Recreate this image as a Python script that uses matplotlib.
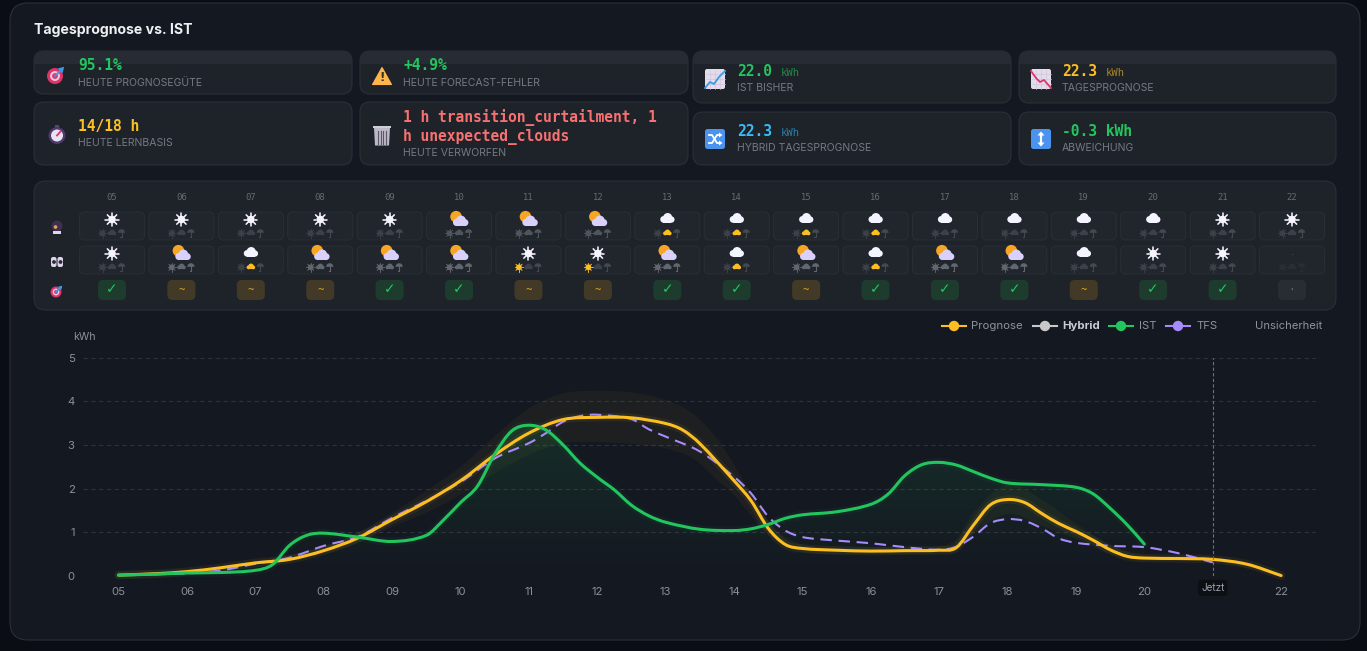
# -*- coding: utf-8 -*-
import numpy as np
import matplotlib
matplotlib.use('Agg')
import matplotlib.pyplot as plt
from matplotlib.patches import Circle, FancyBboxPatch, PathPatch, Polygon, Rectangle, Wedge
from matplotlib.path import Path

# daten
hours = ['05', '06', '07', '08', '09', '10', '11', '12', '13', '14', '15', '16', '17', '18', '19', '20', '21', '22']

prog_x = [5, 5.5, 6, 6.5, 7, 7.5, 8, 8.5, 9, 9.5, 10, 10.5, 11, 11.5, 12, 12.5, 13, 13.25, 13.5, 14, 14.25, 14.5,
          14.75, 15, 15.5, 16, 16.5, 17, 17.25, 17.5, 17.75, 18, 18.25, 18.5, 18.75, 19, 19.25, 19.5, 19.75, 20,
          20.5, 21, 21.5, 22]
prog_y = [0.02, 0.05, 0.1, 0.19, 0.3, 0.38, 0.58, 0.87, 1.29, 1.7, 2.18, 2.77, 3.27, 3.58, 3.63, 3.62, 3.49, 3.34,
          3.03, 2.18, 1.72, 1.09, 0.72, 0.63, 0.59, 0.57, 0.58, 0.59, 0.65, 1.16, 1.63, 1.75, 1.68, 1.43, 1.2, 1.02,
          0.82, 0.6, 0.45, 0.41, 0.4, 0.38, 0.27, 0.01]

ist_x = [5, 5.5, 6, 6.5, 7, 7.25, 7.5, 7.75, 8, 8.5, 9, 9.5, 9.75, 10, 10.25, 10.5, 10.75, 11, 11.25, 11.5, 11.75,
         12, 12.25, 12.5, 12.75, 13, 13.5, 14, 14.25, 14.5, 14.75, 15, 15.5, 16, 16.25, 16.5, 16.75, 17, 17.25,
         17.5, 17.75, 18, 18.5, 19, 19.25, 19.5, 19.75, 20]
ist_y = [0.02, 0.04, 0.07, 0.08, 0.13, 0.26, 0.7, 0.93, 0.98, 0.89, 0.79, 0.93, 1.28, 1.68, 2.06, 2.79, 3.32, 3.45,
         3.34, 3.0, 2.58, 2.26, 1.97, 1.62, 1.38, 1.23, 1.07, 1.04, 1.08, 1.18, 1.32, 1.4, 1.47, 1.64, 1.87, 2.3,
         2.55, 2.6, 2.54, 2.39, 2.24, 2.13, 2.09, 2.03, 1.88, 1.55, 1.17, 0.73]

tfs_x = [5, 6, 6.5, 7, 7.5, 8, 8.5, 9, 9.5, 10, 10.5, 11, 11.25, 11.5, 11.75, 12, 12.5, 12.75, 13, 13.5, 14, 14.25,
         14.5, 14.75, 15, 15.5, 16, 16.5, 17, 17.25, 17.5, 17.75, 18, 18.25, 18.5, 18.75, 19, 19.5, 20, 20.5, 21]
tfs_y = [0.02, 0.06, 0.13, 0.28, 0.42, 0.69, 0.9, 1.33, 1.72, 2.15, 2.69, 3.04, 3.27, 3.53, 3.66, 3.69, 3.59, 3.36,
         3.19, 2.85, 2.27, 1.89, 1.36, 1.04, 0.89, 0.81, 0.75, 0.66, 0.6, 0.67, 0.9, 1.21, 1.3, 1.26, 1.09, 0.86,
         0.76, 0.69, 0.66, 0.52, 0.31]

band_x = [5, 6, 7, 8, 8.5, 9, 9.5, 10, 10.5, 11, 11.5, 12, 12.5, 13, 13.4, 13.75, 14, 14.5, 15, 16, 17, 17.25, 17.5,
          18, 18.5, 19, 19.5, 20, 21, 22]
band_hi = [0.03, 0.12, 0.34, 0.68, 1.0, 1.45, 1.95, 2.5, 3.2, 3.84, 4.18, 4.24, 4.2, 4.03, 3.72, 3.15, 2.55, 1.25,
           0.72, 0.66, 0.68, 0.85, 1.45, 2.1, 1.75, 1.2, 0.72, 0.48, 0.44, 0.02]
band_lo = [0.01, 0.08, 0.26, 0.5, 0.75, 1.12, 1.45, 1.85, 2.35, 2.77, 3.04, 3.06, 3.02, 2.92, 2.69, 2.2, 1.85, 0.95,
           0.55, 0.5, 0.52, 0.58, 0.95, 1.42, 1.15, 0.85, 0.5, 0.35, 0.33, 0.0]

now_hour = 21

wx_top = ['sun'] * 5 + ['mix'] * 3 + ['cloud'] * 8 + ['sun'] * 2
wx_bottom = ['sun', 'mix', 'cloud', 'mix', 'mix', 'mix', 'sun', 'sun', 'mix', 'cloud', 'mix', 'cloud', 'mix', 'mix',
             'cloud', 'sun', 'sun', 'none']
small_top = ['', '', '', '', '', '', '', '', 'c', 'c', 'c', 'c', '', '', '', '', '', '']
small_bottom = ['', '', 'c', '', '', '', 's', 's', '', 'c', '', 'c', '', '', '', '', '', '']
badges = ['ok', 'mid', 'mid', 'mid', 'ok', 'ok', 'mid', 'mid', 'ok', 'ok', 'mid', 'ok', 'ok', 'ok', 'mid', 'ok', 'ok', 'na']

# farben
BG = '#0a0d13'
CARD = '#141821'
TILE = '#1e2229'
STRIP = '#272b33'
EDGE = '#2b2f37'
YEL = '#fbbf24'
GRN = '#22c55e'
PUR = '#a78bfa'
BLU = '#38bdf8'
RED = '#f87171'
GREY = '#747983'
MONO = 'DejaVu Sans Mono'
SANS = 'Inter'

fig = plt.figure(figsize=(13.67, 6.51), dpi=100, facecolor=BG)
ax = fig.add_axes([0, 0, 1, 1])
ax.set_xlim(0, 1367)
ax.set_ylim(651, 0)
ax.axis('off')


def box(x0, y0, x1, y1, r, fc, ec='none', lw=0.8, z=1):
    p = FancyBboxPatch((x0 + r, y0 + r), x1 - x0 - 2 * r, y1 - y0 - 2 * r, boxstyle='round,pad=%g,rounding_size=%g' % (r, r),
                       fc=fc, ec=ec, lw=lw, zorder=z)
    ax.add_patch(p)
    return p


def add(p, z=5):
    p.set_zorder(z)
    ax.add_patch(p)


def txt(x, y, s, size, color, family=SANS, weight='normal', ha='left', z=6):
    return ax.text(x, y, s, fontsize=size, color=color, family=family, weight=weight, ha=ha, va='center', zorder=z)


def sun(x, y, r, color, ray=None, lw=None):
    ray = ray or r * 2.1
    for a in np.arange(8) * np.pi / 4:
        ax.plot([x + r * np.cos(a), x + ray * np.cos(a)], [y + r * np.sin(a), y + ray * np.sin(a)], color=color,
                lw=lw or r * 0.3, solid_capstyle='round', zorder=5)
    add(Circle((x, y), r, fc=color, ec='none'))


def cloud(x, y, s, color, z=5):
    # s = halbe breite
    add(Circle((x - s * 0.5, y + s * 0.12), s * 0.45, fc=color, ec='none'), z)
    add(Circle((x + s * 0.05, y - s * 0.12), s * 0.62, fc=color, ec='none'), z)
    add(Circle((x + s * 0.55, y + s * 0.14), s * 0.43, fc=color, ec='none'), z)
    add(Rectangle((x - s * 0.55, y + s * 0.1), s * 1.1, s * 0.47, fc=color, ec='none'), z)


def umbrella(x, y, color):
    add(Wedge((x, y - 0.5), 3.6, 180, 360, fc=color, ec='none'))
    ax.plot([x, x, x - 1.2], [y - 1, y + 4, y + 4], color=color, lw=0.8, zorder=5)


def wx_icon(kind, x, y):
    if kind == 'sun':
        sun(x, y, 3.8, '#f6f4ff', 6.6)
    elif kind == 'cloud':
        cloud(x, y - 1, 7.4, '#f3f4ff')
    elif kind == 'mix':
        add(Circle((x - 3, y - 2.8), 5.8, fc='#f6a623', ec='none'), 4)
        cloud(x + 1.5, y + 2, 8, '#d9d0fb')
    else:
        txt(x, y + 2, '·', 8, '#50545c', ha='center')


def small_icons(x, y, active, strength):
    off = ['#3c4048', '#50545c', '#62666e', '#292d34'][strength]
    sun(x - 9.5, y, 2.9, YEL if active == 's' else off, 4.3, 0.7)
    cloud(x, y - 0.5, 4.4, YEL if active == 'c' else off)
    umbrella(x + 9.5, y, off if strength else '#44484f')


def target_icon(x, y, r=8):
    add(Circle((x, y), r, fc='#e0336b', ec='none'))
    add(Circle((x, y), r * 0.62, fc='#f4c6d6', ec='none'))
    add(Circle((x, y), r * 0.36, fc='#e0336b', ec='none'))
    ax.plot([x, x + r * 0.85], [y, y - r * 0.85], color='#3b9ae1', lw=1.4, zorder=6)
    add(Polygon([[x + r * 0.35, y - r * 0.95], [x + r * 1.15, y - r * 1.15], [x + r * 0.95, y - r * 0.35]], fc='#3b9ae1', ec='none'), 6)


def warn_icon(x, y):
    add(Polygon([[x, y - 8.5], [x + 9.5, y + 8.5], [x - 9.5, y + 8.5]], closed=True, fc='#fdb64c', ec='#fdb64c', lw=0.8, joinstyle='round'))
    txt(x, y + 1.5, '!', 8.5, '#33302a', family='DejaVu Sans', weight='bold', ha='center')


def watch_icon(x, y):
    add(Rectangle((x - 2, y - 10.5), 4, 3, fc='#5a4478', ec='none'))
    add(Circle((x, y), 8.5, fc='#4d3a6b', ec='none'))
    add(Circle((x, y), 6, fc='#e8e2f4', ec='none'))
    ax.plot([x, x + 3.5], [y, y - 4], color='#e0336b', lw=1.3, zorder=6)


def trash_icon(x, y):
    add(Polygon([[x - 8, y - 8], [x + 8, y - 8], [x + 7, y + 10], [x - 7, y + 10]], fc='#bdb8c8', ec='none'))
    add(Rectangle((x - 9, y - 10), 18, 2.5, fc='#d0ccd8', ec='none'), 6)
    for dx in (-4, -1.3, 1.3, 4):
        ax.plot([x + dx, x + dx], [y - 5, y + 8], color='#5a5866', lw=0.8, zorder=6)


def chart_icon(x, y, color, pts):
    box(x - 10, y - 10, x + 10, y + 10, 2, '#e4dcec', z=5)
    for d in (-5, 0, 5):
        ax.plot([x + d, x + d], [y - 9.5, y + 9.5], color='#cfc6dc', lw=0.5, zorder=5.5)
        ax.plot([x - 9.5, x + 9.5], [y + d, y + d], color='#cfc6dc', lw=0.5, zorder=5.5)
    ax.plot([x + p[0] for p in pts], [y + p[1] for p in pts], color=color, lw=1.3, zorder=6)


def blue_icon(x, y):
    box(x - 10, y - 10, x + 10, y + 10, 2.5, '#4a93ef', z=5)


def smooth_path(xs, ys):
    xs, ys = np.asarray(xs, float), np.asarray(ys, float)
    m = np.zeros(len(xs))
    m[1:-1] = (ys[2:] - ys[:-2]) / (xs[2:] - xs[:-2])
    m[0] = (ys[1] - ys[0]) / (xs[1] - xs[0])
    m[-1] = (ys[-1] - ys[-2]) / (xs[-1] - xs[-2])
    verts = [(xs[0], ys[0])]
    codes = [Path.MOVETO]
    for i in range(len(xs) - 1):
        h = (xs[i + 1] - xs[i]) / 3
        verts += [(xs[i] + h, ys[i] + m[i] * h), (xs[i + 1] - h, ys[i + 1] - m[i + 1] * h), (xs[i + 1], ys[i + 1])]
        codes += [Path.CURVE4] * 3
    return verts, codes


def line(a, xs, ys, **kw):
    v, c = smooth_path(xs, ys)
    p = PathPatch(Path(v, c), fc='none', capstyle=kw.pop('capstyle', 'round'), **kw)
    a.add_patch(p)
    return p


# karte
box(10, 3, 1360, 640, 18, CARD, EDGE, 0.8, z=0)
txt(34, 30, 'Tagesprognose vs. IST', 10.15, '#eef0f3', weight='bold')

# kacheln
for x0, y0, x1, y1, strip in [(34, 51, 352, 94, 1), (360, 51, 688, 94, 1), (34, 102, 352, 165, 0), (360, 102, 688, 165, 0),
                              (693, 51, 1011, 103, 1), (1019, 51, 1336, 103, 1), (693, 112, 1011, 165, 0), (1019, 112, 1336, 165, 0)]:
    tile = box(x0, y0, x1, y1, 10, TILE, EDGE, 0.8, z=1)
    if strip:
        r = Rectangle((x0, y0), x1 - x0, 13, fc=STRIP, ec='none', zorder=1.5)
        ax.add_patch(r)
        r.set_clip_path(tile)

LBL = 7.55
txt(78, 66, '95.1%', 10.5, GRN, MONO, 'bold')
txt(78, 83, 'HEUTE PROGNOSEGÜTE', LBL, GREY)
txt(403, 66, '+4.9%', 10.5, GRN, MONO, 'bold')
txt(403, 83, 'HEUTE FORECAST-FEHLER', LBL, GREY)
txt(78, 127, '14/18 h', 10.5, YEL, MONO, 'bold')
txt(78, 143, 'HEUTE LERNBASIS', LBL, GREY)
txt(403, 117, '1 h transition_curtailment, 1', 10.5, RED, MONO, 'bold')
txt(403, 137, 'h unexpected_clouds', 10.5, RED, MONO, 'bold')
txt(403, 153, 'HEUTE VERWORFEN', LBL, GREY)

txt(737, 72, '22.0', 10.5, GRN, MONO, 'bold')
txt(781, 72.5, 'kWh', 7.6, '#1f8a48', MONO)
txt(737, 88, 'IST BISHER', LBL, GREY)
txt(1062, 72, '22.3', 10.5, YEL, MONO, 'bold')
txt(1106, 72.5, 'kWh', 7.6, '#a8842a', MONO)
txt(1062, 88, 'TAGESPROGNOSE', LBL, GREY)
txt(737, 132, '22.3', 10.5, BLU, MONO, 'bold')
txt(781, 132.5, 'kWh', 7.6, '#2a7fa5', MONO)
txt(737, 148, 'HYBRID TAGESPROGNOSE', LBL, GREY)
txt(1062, 132, '-0.3 kWh', 10.5, GRN, MONO, 'bold')
txt(1062, 148, 'ABWEICHUNG', LBL, GREY)

target_icon(55, 76)
warn_icon(382, 76)
watch_icon(57, 135.5)
trash_icon(382, 135.5)
chart_icon(715, 79, '#3b9ae1', [(-10, 9), (-5, 3), (-1, 5), (4, -2), (10, -8)])
chart_icon(1041, 79, '#e0336b', [(-10, -8), (-5, -1), (-1, 3), (3, 1), (10, 9)])
blue_icon(715, 139)
ax.plot([709, 712, 717, 720], [135, 135, 143, 143], color='white', lw=1.3, zorder=6)
ax.plot([709, 712, 717, 720], [143, 143, 135, 135], color='white', lw=1.3, zorder=6)
add(Polygon([[719, 132.5], [722.5, 135], [719, 137.5]], fc='white', ec='none'), 6)
add(Polygon([[719, 140.5], [722.5, 143], [719, 145.5]], fc='white', ec='none'), 6)
blue_icon(1041, 139)
ax.plot([1041, 1041], [134, 144], color='white', lw=1.6, zorder=6)
add(Polygon([[1037.5, 135.5], [1041, 131.5], [1044.5, 135.5]], fc='white', ec='none'), 6)
add(Polygon([[1037.5, 142.5], [1041, 146.5], [1044.5, 142.5]], fc='white', ec='none'), 6)

# wetter-raster
box(34, 181, 1336, 310, 12, TILE, EDGE, 0.8, z=1)
col_x = np.linspace(112, 1292, len(hours))
for i, h in enumerate(hours):
    cx = col_x[i]
    txt(cx, 197.5, h, 6.4, '#666a72', MONO, ha='center')
    box(cx - 32.5, 212, cx + 32.5, 240, 5, '#21252c', '#2a2e35', 0.7, z=2)
    box(cx - 32.5, 246, cx + 32.5, 274, 5, '#21252c', '#2a2e35', 0.7, z=2)
    wx_icon(wx_top[i], cx, 219.5)
    wx_icon(wx_bottom[i], cx, 253.5)
    small_icons(cx, 233.3, small_top[i], 1 if wx_top[i] == 'mix' or (wx_top[i] == 'cloud' and i > 15) else 0)
    if wx_bottom[i] == 'none':
        small_icons(cx, 267.3, '', 3)
    else:
        small_icons(cx, 267.3, small_bottom[i], 2 if wx_bottom[i] == 'mix' else 0)
    kind = badges[i]
    fc = {'ok': '#1d3c2e', 'mid': '#423a26', 'na': '#282c33'}[kind]
    box(cx - 14, 280, cx + 14, 300, 5, fc, z=2)
    if kind == 'ok':
        txt(cx, 289.5, '✓', 10, GRN, 'DejaVu Sans', ha='center')
    elif kind == 'mid':
        txt(cx, 290.5, '~', 7.5, '#e5ac20', MONO, ha='center')
    else:
        txt(cx, 290, '·', 8, '#62666e', MONO, ha='center')

# zeilen-icons links
add(Circle((57, 226), 5.5, fc='#3d2f4f', ec='none'))
add(Circle((55.5, 227), 1.8, fc='#e8a05a', ec='none'), 6)
add(Rectangle((53, 231), 8, 3, fc='#ddd4ee', ec='none'))
box(51, 257, 56.5, 267, 2, '#dcd2ea', z=5)
box(57.5, 257, 63, 267, 2, '#dcd2ea', z=5)
add(Circle((54, 262), 1.9, fc='#2a2a33', ec='none'), 6)
add(Circle((60.5, 262), 1.9, fc='#2a2a33', ec='none'), 6)
target_icon(56, 292, 5.5)

# legende
for lx0, lx1, col, lab, tx, weight, tcol in [(942, 966, YEL, 'Prognose', 971, 'normal', '#8e939b'),
                                             (1033, 1057, '#c8c8c8', 'Hybrid', 1062, 'bold', '#c9ccd2'),
                                             (1109, 1133, GRN, 'IST', 1139, 'normal', '#8e939b'),
                                             (1166, 1190, PUR, 'TFS', 1196, 'normal', '#8e939b')]:
    ax.plot([lx0, lx1], [326, 326], color=col, lw=1.5, zorder=5)
    add(Circle(((lx0 + lx1) / 2, 326), 5.2, fc=col, ec='none'))
    txt(tx, 326, lab, 8.2, tcol, weight=weight)
add(Circle((1190, 326), 0.8, fc=PUR, ec='none'))
txt(1255, 326, 'Unsicherheit', 8.1, '#8e939b')
txt(73, 337, 'kWh', 7.6, '#8e939b')

# diagramm
a2 = fig.add_axes([83 / 1367, (651 - 576) / 651, (1316 - 83) / 1367, (576 - 357.5) / 651])
a2.patch.set_visible(False)
for s in a2.spines.values():
    s.set_visible(False)
a2.set_xlim(4.48, 22.51)
a2.set_ylim(0, 5)
a2.set_yticks([0, 1, 2, 3, 4, 5])
a2.set_xticks(np.arange(5, 23))
a2.set_xticklabels(hours)
a2.tick_params(length=0, labelsize=8.2, labelcolor='#8a8f98')
a2.tick_params(axis='x', pad=8)
a2.tick_params(axis='y', pad=6)
for lab in a2.get_xticklabels() + a2.get_yticklabels():
    lab.set_family(SANS)
a2.grid(axis='y', color='#2d3139', ls=(0, (4, 3)), lw=0.8)
a2.set_axisbelow(True)

# unsicherheitsband
uv, uc = smooth_path(band_x, band_hi)
lv, lc = smooth_path(band_x[::-1], band_lo[::-1])
band = Path(uv + [lv[0]] + lv[1:] + [uv[0]], uc + [Path.LINETO] + lc[1:] + [Path.CLOSEPOLY])
a2.add_patch(PathPatch(band, fc=YEL, ec='none', alpha=0.045, zorder=1))

# fläche unter IST als verlauf
iv, ic = smooth_path(ist_x, ist_y)
area = Path(iv + [(ist_x[-1], 0), (ist_x[0], 0), iv[0]], ic + [Path.LINETO, Path.LINETO, Path.CLOSEPOLY])
grad = np.zeros((100, 1, 4))
grad[..., :3] = matplotlib.colors.to_rgb(GRN)
grad[..., 3] = np.linspace(0.13, 0.0, 100)[:, None]
im = a2.imshow(grad, extent=[5, 20, 0, 3.45], aspect='auto', origin='upper', zorder=1.2)
clip = PathPatch(area, fc='none', ec='none', transform=a2.transData)
a2.add_patch(clip)
im.set_clip_path(clip)
a2.set_xlim(4.48, 22.51)
a2.set_ylim(0, 5)

line(a2, prog_x, prog_y, ec=YEL, lw=6, alpha=0.07, zorder=2, clip_on=False)
line(a2, ist_x, ist_y, ec=GRN, lw=6, alpha=0.05, zorder=2, clip_on=False)
line(a2, tfs_x, tfs_y, ec=PUR, lw=1.5, ls=(0, (5.5, 3.2)), zorder=3, capstyle='butt', clip_on=False)
line(a2, prog_x, prog_y, ec=YEL, lw=2.2, zorder=4, clip_on=False)
line(a2, ist_x, ist_y, ec=GRN, lw=2.2, zorder=5, clip_on=False)

a2.axvline(now_hour, color='#6d7178', lw=0.8, ls=(0, (3, 2)), zorder=6)
a2.annotate('Jetzt', xy=(now_hour, 0), xytext=(0, -8.5), textcoords='offset points', ha='center', va='center',
            fontsize=7.2, color='#9ca0a8', family=SANS, zorder=8, annotation_clip=False,
            bbox=dict(boxstyle='round,pad=0.3,rounding_size=0.3', fc='#0c0f14', ec='none'))

fig.savefig('out.png', dpi=100, facecolor=BG)
